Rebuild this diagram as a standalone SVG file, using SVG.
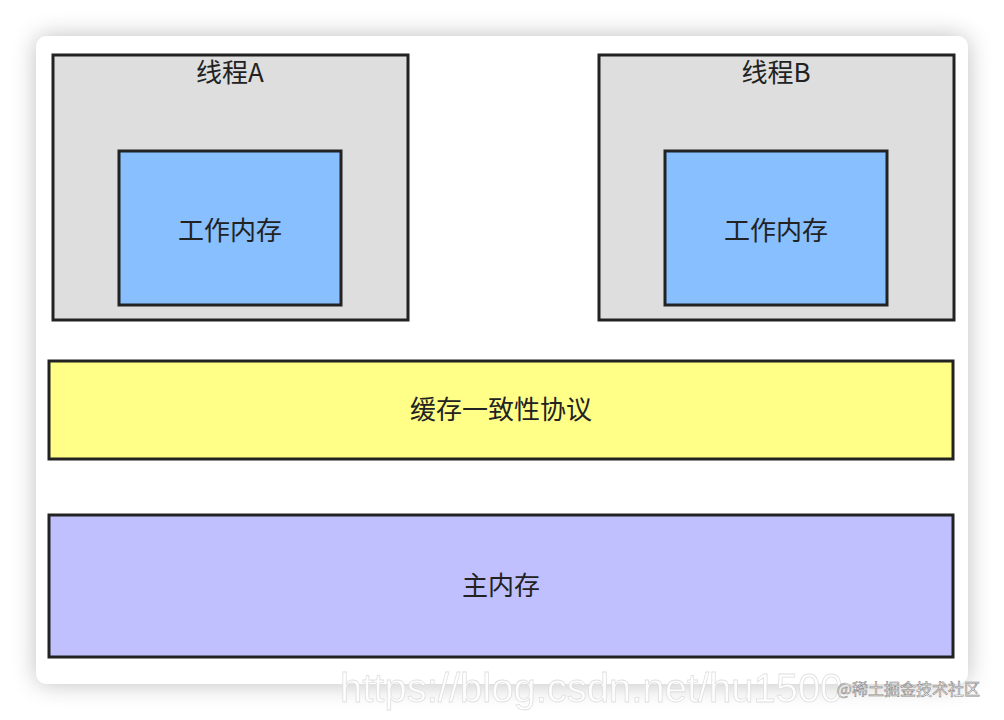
<svg xmlns="http://www.w3.org/2000/svg" width="1004" height="720" viewBox="0 0 1004 720">
<style>
.b{stroke:#222;stroke-width:3}
.t{font-family:"Noto Sans CJK SC","Liberation Sans",sans-serif;font-size:26px;fill:#222;text-anchor:middle}
</style>
<defs><filter id="sh" x="-10%" y="-10%" width="120%" height="120%"><feGaussianBlur stdDeviation="12"/></filter></defs>
<rect width="1004" height="720" fill="#fff"/>
<rect x="36" y="36" width="932" height="648" rx="10" fill="#000" opacity="0.25" filter="url(#sh)"/>
<rect x="36" y="36" width="932" height="648" rx="10" fill="#fff"/>
<g id="threadA"><rect class="b" x="53" y="55" width="355" height="265" fill="#dedede"/><text class="t" x="230" y="82">线程A</text></g>
<g id="workA"><rect class="b" x="119" y="151" width="222" height="154" fill="#87bfff"/><text class="t" x="230" y="240">工作内存</text></g>
<g id="threadB"><rect class="b" x="599" y="55" width="355" height="265" fill="#dedede"/><text class="t" x="776" y="82">线程B</text></g>
<g id="workB"><rect class="b" x="665" y="151" width="222" height="154" fill="#87bfff"/><text class="t" x="776" y="240">工作内存</text></g>
<g id="cache"><rect class="b" x="49" y="361" width="904" height="98" fill="#ffff88"/><text class="t" x="501" y="419">缓存一致性协议</text></g>
<g id="main"><rect class="b" x="49" y="515" width="904" height="142" fill="#c0c0ff"/><text class="t" x="501" y="595">主内存</text></g>
<g id="connectors"/>
<text x="340" y="702" font-family="Liberation Sans,sans-serif" font-size="40" fill="#fff" stroke="#ddd" stroke-width="0.8" opacity="0.9">https://blog.csdn.net/hu1500</text>
<text x="980" y="695" font-family="Noto Sans CJK SC,sans-serif" font-size="16" fill="#fff" stroke="#888" stroke-width="0.6" text-anchor="end">@稀土掘金技术社区</text>
</svg>
